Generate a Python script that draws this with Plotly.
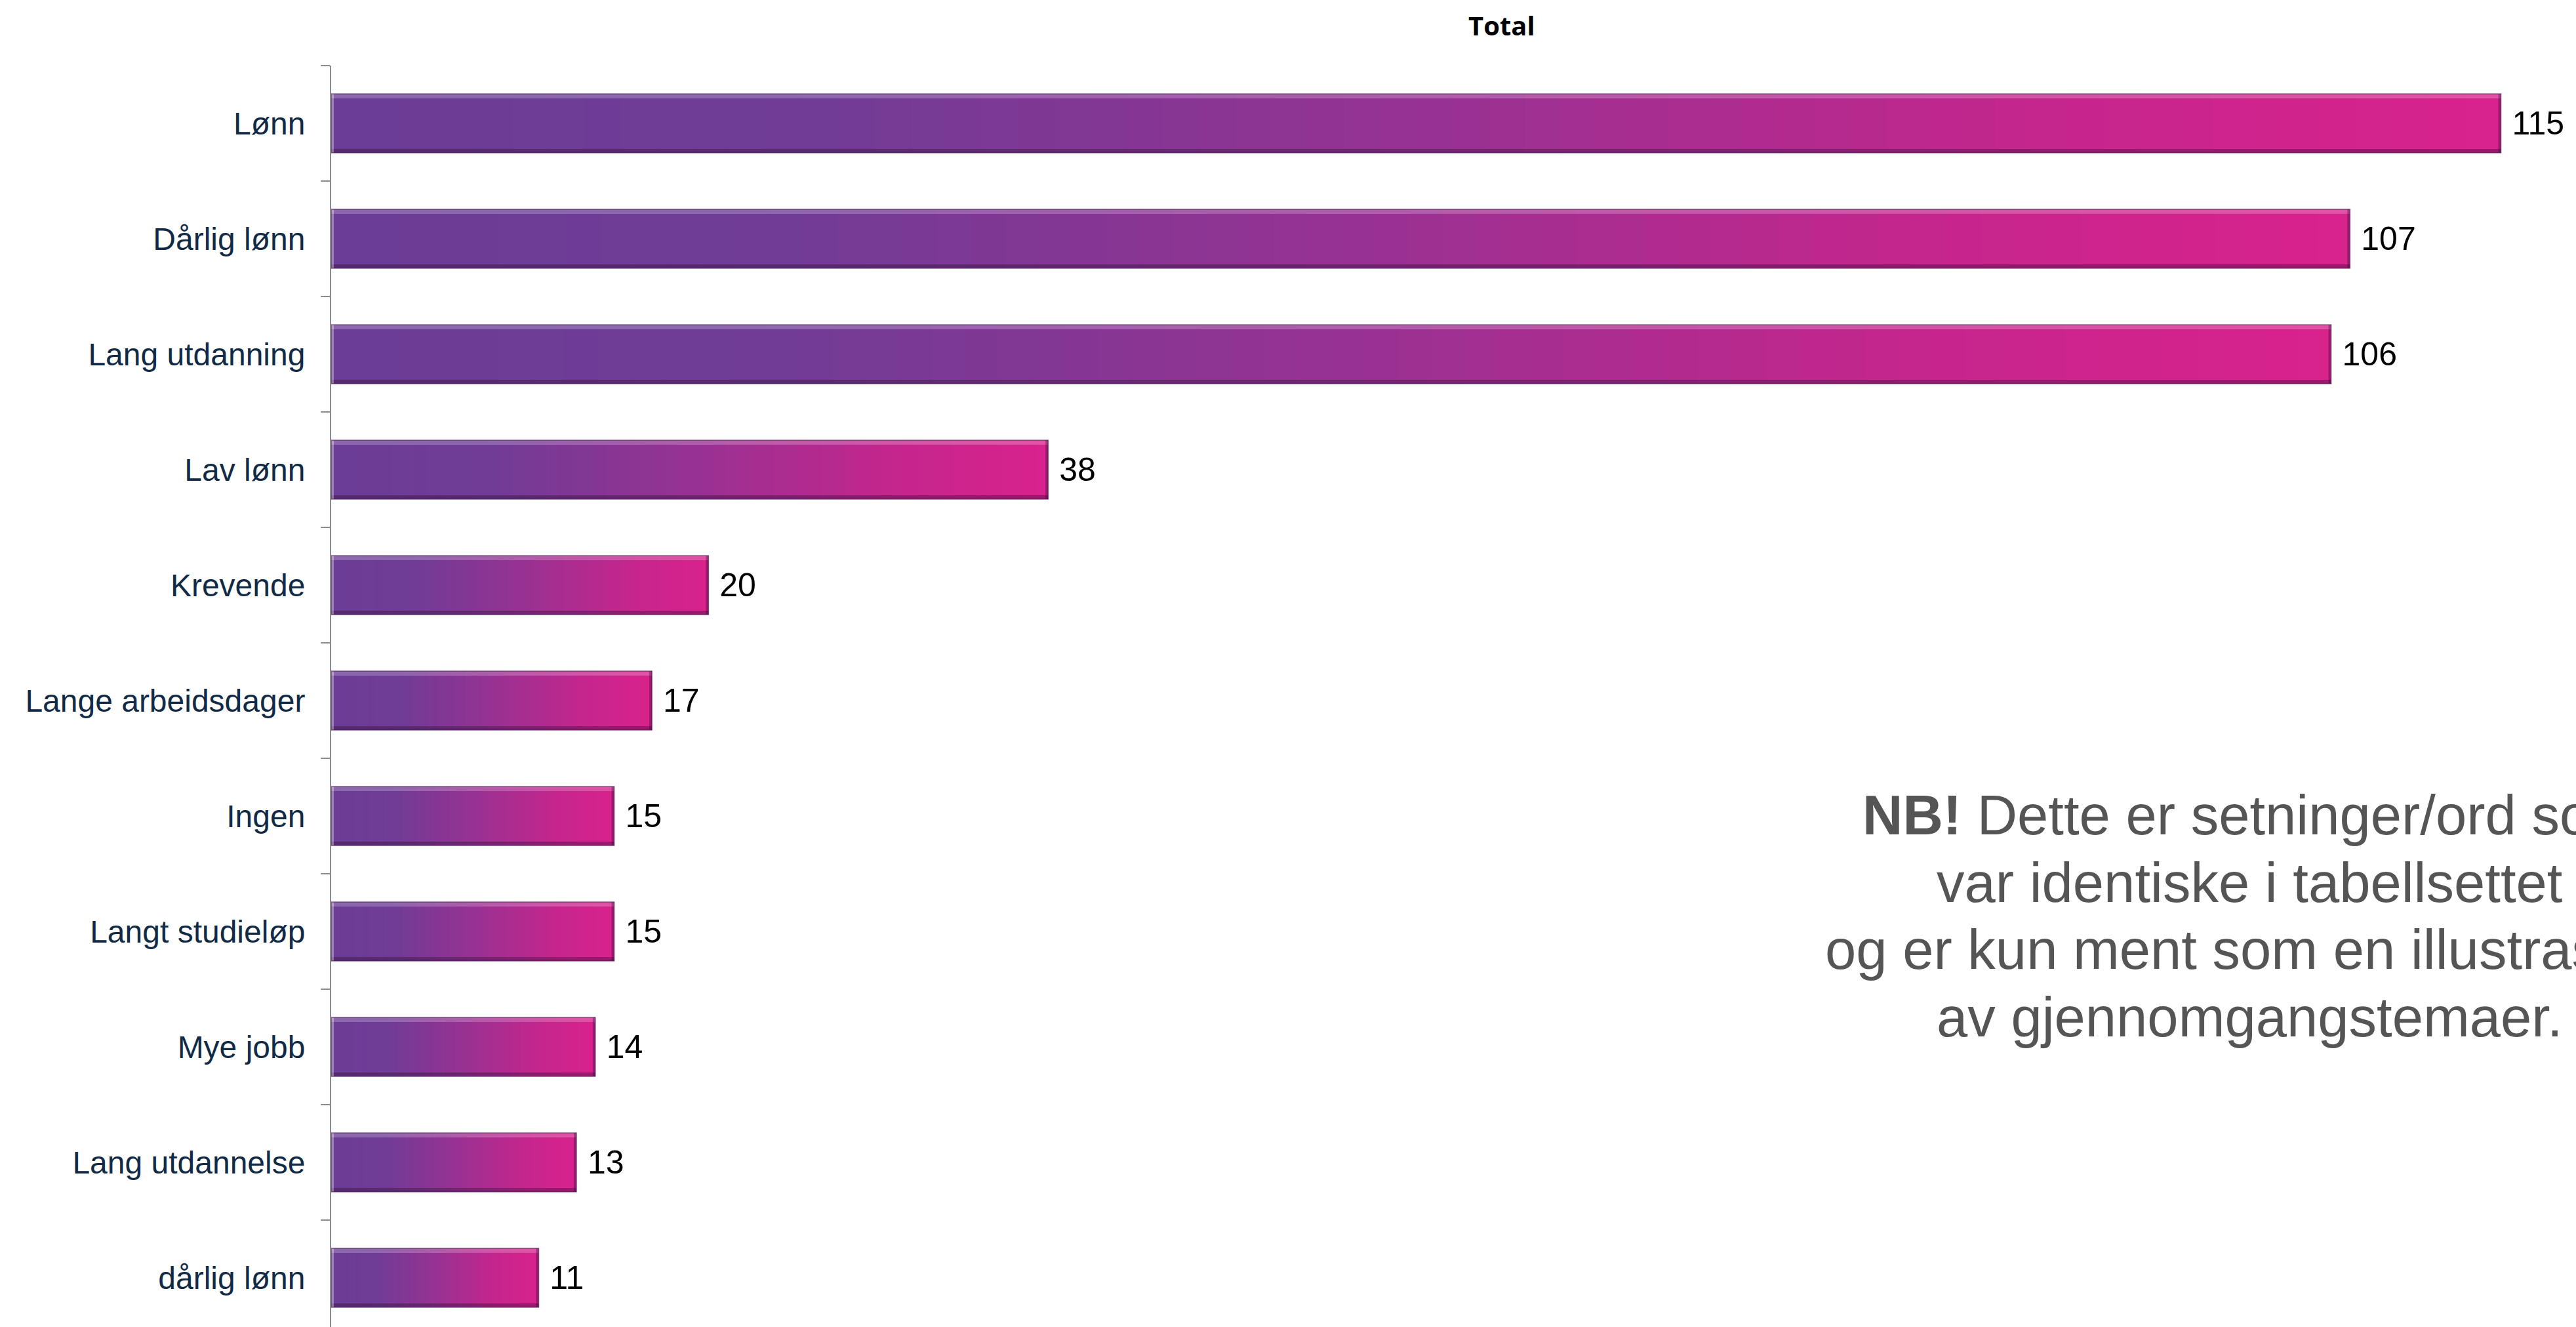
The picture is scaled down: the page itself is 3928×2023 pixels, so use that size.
import plotly.graph_objects as go

categories = ["Lønn", "Dårlig lønn", "Lang utdanning", "Lav lønn", "Krevende",
              "Lange arbeidsdager", "Ingen", "Langt studieløp", "Mye jobb",
              "Lang utdannelse", "dårlig lønn"]
values = [115, 107, 106, 38, 20, 17, 15, 15, 14, 13, 11]
title_text = "Total"
note_lines = ["<b>NB!</b> Dette er setninger/ord som", "var identiske i tabellsettet",
              "og er kun ment som en illustrasjon", "av gjennomgangstemaer."]

W, H = 3928, 2023
ML, MT = 505, 100
CAT_PX = 176.0
UNIT_PX = 28.77
BAR_W = 0.51

# gradient stops (position along bar, rgb)
stops = [(0.0, (108, 61, 150)), (0.22, (112, 60, 150)), (0.5, (150, 50, 146)),
         (0.78, (196, 38, 141)), (1.0, (217, 34, 140))]

def col(t):
    for (p0, c0), (p1, c1) in zip(stops[:-1], stops[1:]):
        if p0 <= t <= p1:
            f = (t - p0) / (p1 - p0) if p1 > p0 else 0
            c = [round(a + (b - a) * f) for a, b in zip(c0, c1)]
            return "rgb(%d,%d,%d)" % tuple(c)
    return "rgb(%d,%d,%d)" % stops[-1][1]

N = 60
fig = go.Figure()
for k in range(N):
    frac = (N - k) / N
    fig.add_trace(go.Bar(
        y=categories, x=[v * frac for v in values], orientation="h",
        width=BAR_W, offset=-BAR_W / 2,
        marker=dict(color=col(frac - 0.5 / N), line=dict(width=0)),
        showlegend=False, hoverinfo="skip"))

# bevel: top highlight, bottom shade, right-end shade, left-edge highlight
hi_w = 7 / CAT_PX
lo_w = 6 / CAT_PX
fig.add_trace(go.Bar(y=categories, x=values, orientation="h", width=hi_w, offset=-BAR_W / 2,
                     marker=dict(color="rgba(255,255,255,0.22)", line=dict(width=0)),
                     showlegend=False, hoverinfo="skip"))
fig.add_trace(go.Bar(y=categories, x=values, orientation="h", width=lo_w, offset=BAR_W / 2 - lo_w,
                     marker=dict(color="rgba(40,10,50,0.35)", line=dict(width=0)),
                     showlegend=False, hoverinfo="skip"))
edge = 4 / UNIT_PX
fig.add_trace(go.Bar(y=categories, x=[edge] * len(values), base=[v - edge for v in values],
                     orientation="h", width=BAR_W, offset=-BAR_W / 2,
                     marker=dict(color="rgba(40,10,50,0.35)", line=dict(width=0)),
                     showlegend=False, hoverinfo="skip"))
fig.add_trace(go.Bar(y=categories, x=[edge] * len(values), orientation="h",
                     width=BAR_W, offset=-BAR_W / 2,
                     marker=dict(color="rgba(255,255,255,0.35)", line=dict(width=0)),
                     showlegend=False, hoverinfo="skip"))

# outline + labels
fig.add_trace(go.Bar(
    y=categories, x=values, orientation="h", width=BAR_W, offset=-BAR_W / 2,
    marker=dict(color="rgba(0,0,0,0)", line=dict(color="rgba(75,25,85,0.6)", width=1.5)),
    text=[str(v) for v in values], texttemplate=" %{text}", textposition="outside",
    textfont=dict(family="Liberation Sans, Arial", size=50, color="#000000"),
    cliponaxis=False, showlegend=False, hoverinfo="skip"))

plot_h = H - MT
yr_bottom = -0.5 + plot_h / CAT_PX

fig.update_layout(
    width=W, height=H, barmode="overlay",
    margin=dict(l=ML, r=0, t=MT, b=0),
    plot_bgcolor="white", paper_bgcolor="white",
    xaxis=dict(range=[0, (W - ML) / UNIT_PX], visible=False),
    yaxis=dict(type="category", range=[yr_bottom, -0.5],
               showline=True, linecolor="#8c8c8c", linewidth=2,
               ticks="outside", tickson="boundaries", ticklen=14, tickwidth=2,
               tickcolor="#8c8c8c", ticklabelstandoff=28, showgrid=False, zeroline=False,
               tickfont=dict(family="Liberation Sans, Arial", size=48, color="#112a46")),
    font=dict(family="Liberation Sans, Arial"),
)

fig.add_annotation(text="<b>%s</b>" % title_text, xref="paper", yref="paper",
                   x=(2290 - ML) / (W - ML), y=1 + (MT - 38) / plot_h,
                   xanchor="center", yanchor="middle", showarrow=False,
                   font=dict(family="Open Sans", size=40, color="#000000"))

note_size = 85
note_cx = 3430
note_baselines = [1272, 1375, 1477, 1580]
for line, base_y in zip(note_lines, note_baselines):
    cy = base_y - 0.345 * note_size
    fig.add_annotation(text=line, xref="paper", yref="paper",
                       x=(note_cx - ML) / (W - ML), y=1 - (cy - MT) / plot_h,
                       xanchor="center", yanchor="middle", align="center", showarrow=False,
                       font=dict(family="Liberation Sans, Arial", size=note_size, color="#555555"))

fig.write_html("out.html", config={"displayModeBar": False},
               post_script="document.body.style.margin='0';document.body.style.overflow='hidden';")
